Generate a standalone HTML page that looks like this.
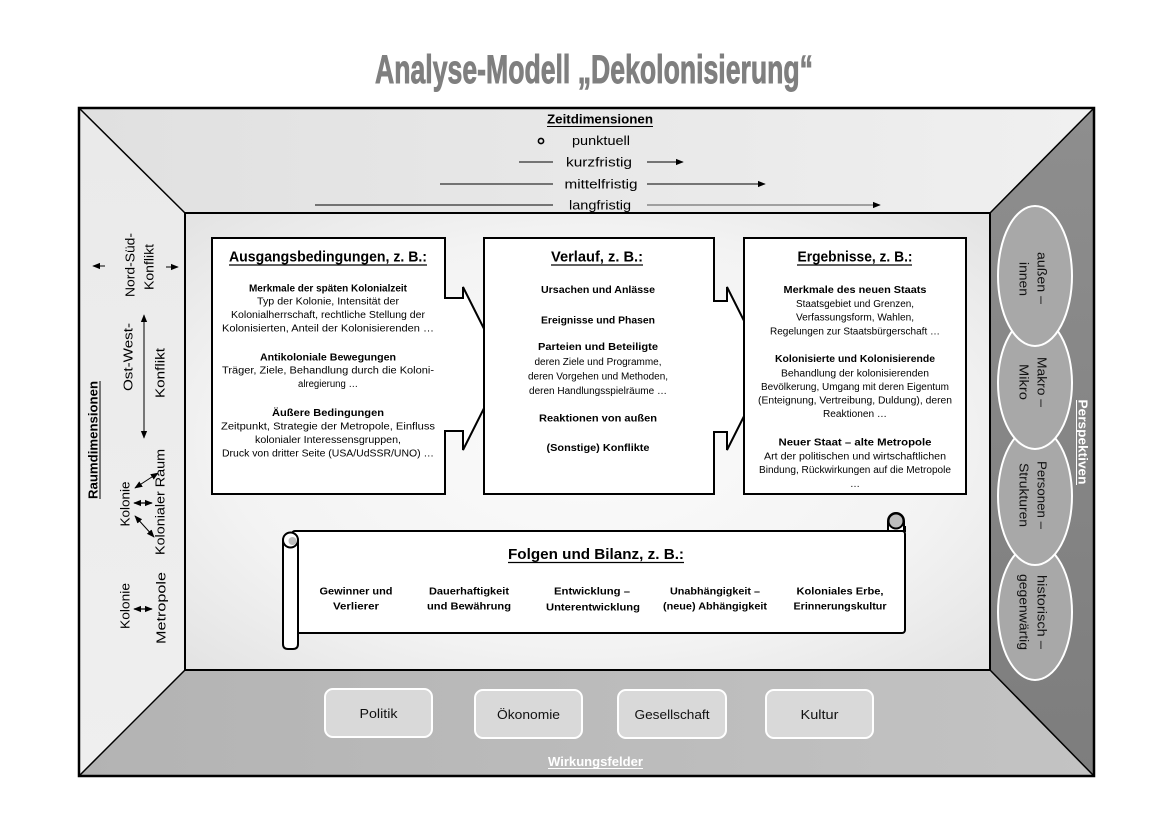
<!DOCTYPE html>
<html>
<head>
<meta charset="utf-8">
<style>
html,body{margin:0;padding:0;background:#fff;}
svg{display:block;}
text{font-family:"Liberation Sans",sans-serif;}
.b{font-weight:bold;}
</style>
</head>
<body>
<svg width="1169" height="826" viewBox="0 0 1169 826" xmlns="http://www.w3.org/2000/svg">
<defs>
  <linearGradient id="gTop" x1="0" y1="0" x2="1" y2="0">
    <stop offset="0" stop-color="#e0e0e0"/>
    <stop offset="1" stop-color="#f0f0f0"/>
  </linearGradient>
  <linearGradient id="gLeft" x1="0" y1="0" x2="0" y2="1">
    <stop offset="0" stop-color="#eaeaea"/>
    <stop offset="1" stop-color="#efefef"/>
  </linearGradient>
  <linearGradient id="gBot" x1="0" y1="0" x2="1" y2="0">
    <stop offset="0" stop-color="#b3b3b3"/>
    <stop offset="1" stop-color="#c3c3c3"/>
  </linearGradient>
  <linearGradient id="gRight" x1="0" y1="0" x2="0" y2="1">
    <stop offset="0" stop-color="#8e8e8e"/>
    <stop offset="1" stop-color="#7d7d7d"/>
  </linearGradient>
  <radialGradient id="gIn" cx="0.5" cy="0.5" r="0.75">
    <stop offset="0" stop-color="#fbfbfb"/>
    <stop offset="0.6" stop-color="#f3f3f3"/>
    <stop offset="1" stop-color="#e0e0e0"/>
  </radialGradient>
  <marker id="ah" viewBox="0 0 10 10" refX="9" refY="5" markerWidth="8" markerHeight="8" markerUnits="userSpaceOnUse" orient="auto-start-reverse">
    <path d="M0,1 L10,5 L0,9 z" fill="#000"/>
  </marker>
</defs>

<rect x="0" y="0" width="1169" height="826" fill="#fff"/>

<!-- Title -->
<text x="594" y="83" text-anchor="middle" font-size="40" font-weight="bold" fill="#7f7f7f" stroke="#7f7f7f" stroke-width="0.9" style="font-family:'Liberation Sans Narrow','Liberation Sans',sans-serif" textLength="438" lengthAdjust="spacingAndGlyphs">Analyse-Modell „Dekolonisierung“</text>

<!-- Frame panels -->
<polygon points="79,108 1094,108 990,213 185,213" fill="url(#gTop)"/>
<polygon points="79,108 185,213 185,670 79,776" fill="url(#gLeft)"/>
<polygon points="79,776 185,670 990,670 1094,776" fill="url(#gBot)"/>
<polygon points="1094,108 990,213 990,670 1094,776" fill="url(#gRight)"/>
<rect x="185" y="213" width="805" height="457" fill="url(#gIn)" stroke="#000" stroke-width="2"/>
<line x1="79" y1="108" x2="185" y2="213" stroke="#000" stroke-width="1.5"/>
<line x1="1094" y1="108" x2="990" y2="213" stroke="#000" stroke-width="1.5"/>
<line x1="79" y1="776" x2="185" y2="670" stroke="#000" stroke-width="1.5"/>
<line x1="1094" y1="776" x2="990" y2="670" stroke="#000" stroke-width="1.5"/>
<rect x="79" y="108" width="1015" height="668" fill="none" stroke="#000" stroke-width="2.5"/>

<!-- Zeitdimensionen -->
<text x="600" y="123.5" text-anchor="middle" font-size="13" class="b" textLength="106" lengthAdjust="spacingAndGlyphs">Zeitdimensionen</text>
<line x1="547" y1="126.5" x2="653" y2="126.5" stroke="#000" stroke-width="1"/>
<circle cx="541" cy="141" r="2.6" fill="none" stroke="#000" stroke-width="1.6"/>
<text x="601" y="145" text-anchor="middle" font-size="13" textLength="58" lengthAdjust="spacingAndGlyphs">punktuell</text>
<line x1="519" y1="162" x2="553" y2="162" stroke="#000" stroke-width="1"/>
<text x="599" y="166.5" text-anchor="middle" font-size="13" textLength="66" lengthAdjust="spacingAndGlyphs">kurzfristig</text>
<line x1="647" y1="162" x2="683" y2="162" stroke="#000" stroke-width="1" marker-end="url(#ah)"/>
<line x1="440" y1="184" x2="553" y2="184" stroke="#000" stroke-width="1"/>
<text x="601" y="188.5" text-anchor="middle" font-size="13" textLength="73" lengthAdjust="spacingAndGlyphs">mittelfristig</text>
<line x1="647" y1="184" x2="765" y2="184" stroke="#000" stroke-width="1" marker-end="url(#ah)"/>
<line x1="315" y1="205" x2="553" y2="205" stroke="#000" stroke-width="1"/>
<text x="600" y="209.5" text-anchor="middle" font-size="13" textLength="62" lengthAdjust="spacingAndGlyphs">langfristig</text>
<line x1="647" y1="205" x2="880" y2="205" stroke="#555" stroke-width="1" marker-end="url(#ah)"/>

<!-- Left panel: Raumdimensionen -->
<text transform="translate(93,440) rotate(-90)" y="4.5" text-anchor="middle" font-size="12.5" class="b" textLength="118" lengthAdjust="spacingAndGlyphs">Raumdimensionen</text>
<line x1="100" y1="381" x2="100" y2="499" stroke="#000" stroke-width="1"/>

<text transform="translate(130,265) rotate(-90)" y="4.5" text-anchor="middle" font-size="13" textLength="64" lengthAdjust="spacingAndGlyphs">Nord-Süd-</text>
<text transform="translate(149,267) rotate(-90)" y="4.5" text-anchor="middle" font-size="13" textLength="46" lengthAdjust="spacingAndGlyphs">Konflikt</text>
<line x1="105" y1="266" x2="93" y2="266" stroke="#000" stroke-width="1" marker-end="url(#ah)"/>
<line x1="166" y1="267" x2="178" y2="267" stroke="#000" stroke-width="1" marker-end="url(#ah)"/>

<text transform="translate(128,357) rotate(-90)" y="4.5" text-anchor="middle" font-size="13" textLength="68" lengthAdjust="spacingAndGlyphs">Ost-West-</text>
<text transform="translate(160,373) rotate(-90)" y="4.5" text-anchor="middle" font-size="13" textLength="50" lengthAdjust="spacingAndGlyphs">Konflikt</text>
<line x1="144" y1="315" x2="144" y2="438" stroke="#000" stroke-width="1" marker-start="url(#ah)" marker-end="url(#ah)"/>

<text transform="translate(125,504) rotate(-90)" y="4.5" text-anchor="middle" font-size="13" textLength="45" lengthAdjust="spacingAndGlyphs">Kolonie</text>
<text transform="translate(160,502) rotate(-90)" y="4.5" text-anchor="middle" font-size="13" textLength="106" lengthAdjust="spacingAndGlyphs">Kolonialer Raum</text>
<line x1="134" y1="503" x2="152" y2="503" stroke="#000" stroke-width="1.2" marker-start="url(#ah)" marker-end="url(#ah)"/>
<line x1="135" y1="488" x2="158" y2="473" stroke="#000" stroke-width="1" marker-start="url(#ah)" marker-end="url(#ah)"/>
<line x1="135" y1="516" x2="154" y2="537" stroke="#000" stroke-width="1" marker-start="url(#ah)" marker-end="url(#ah)"/>

<text transform="translate(125,606) rotate(-90)" y="4.5" text-anchor="middle" font-size="13" textLength="46" lengthAdjust="spacingAndGlyphs">Kolonie</text>
<text transform="translate(161,608) rotate(-90)" y="4.5" text-anchor="middle" font-size="13" textLength="72" lengthAdjust="spacingAndGlyphs">Metropole</text>
<line x1="134" y1="609" x2="152" y2="609" stroke="#000" stroke-width="1.2" marker-start="url(#ah)" marker-end="url(#ah)"/>

<!-- Right panel ellipses -->
<ellipse cx="1035" cy="612" rx="37" ry="68" fill="#a8a8a8" stroke="#fff" stroke-width="2"/>
<ellipse cx="1035" cy="496" rx="37" ry="69" fill="#a8a8a8" stroke="#fff" stroke-width="2"/>
<ellipse cx="1035" cy="383" rx="37" ry="66" fill="#a8a8a8" stroke="#fff" stroke-width="2"/>
<ellipse cx="1035" cy="276" rx="37" ry="70" fill="#a8a8a8" stroke="#fff" stroke-width="2"/>

<g font-size="12.5" fill="#111">
  <text transform="translate(1034,278) rotate(90)" y="-3.6" text-anchor="middle" textLength="52" lengthAdjust="spacingAndGlyphs">außen –</text>
  <text transform="translate(1034,279) rotate(90)" y="14.4" text-anchor="middle" textLength="34" lengthAdjust="spacingAndGlyphs">innen</text>
  <text transform="translate(1034,382) rotate(90)" y="-3.6" text-anchor="middle" textLength="50" lengthAdjust="spacingAndGlyphs">Makro –</text>
  <text transform="translate(1034,382) rotate(90)" y="14.4" text-anchor="middle" textLength="36" lengthAdjust="spacingAndGlyphs">Mikro</text>
  <text transform="translate(1034,495) rotate(90)" y="-3.6" text-anchor="middle" textLength="68" lengthAdjust="spacingAndGlyphs">Personen –</text>
  <text transform="translate(1034,495) rotate(90)" y="14.4" text-anchor="middle" textLength="64" lengthAdjust="spacingAndGlyphs">Strukturen</text>
  <text transform="translate(1034,612) rotate(90)" y="-3.6" text-anchor="middle" textLength="74" lengthAdjust="spacingAndGlyphs">historisch –</text>
  <text transform="translate(1034,612) rotate(90)" y="14.4" text-anchor="middle" textLength="76" lengthAdjust="spacingAndGlyphs">gegenwärtig</text>
</g>
<text transform="translate(1083,442) rotate(90)" y="4.4" text-anchor="middle" font-size="12.5" class="b" fill="#fff" textLength="85" lengthAdjust="spacingAndGlyphs">Perspektiven</text>
<line x1="1076.5" y1="400" x2="1076.5" y2="485" stroke="#fff" stroke-width="1"/>

<!-- Box 1 with arrow -->
<path d="M212 238 H445 V298 H463 V287 L504 368.5 L463 450 V431 H445 V494 H212 Z" fill="#fff" stroke="#000" stroke-width="2" stroke-linejoin="miter"/>
<!-- Box 2 with arrow -->
<path d="M484 238 H714 V301 H727 V287 L768 368.5 L727 450 V432 H714 V494 H484 Z" fill="#fff" stroke="#000" stroke-width="2"/>
<!-- Box 3 -->
<rect x="744" y="238" width="222" height="256" fill="#fff" stroke="#000" stroke-width="2"/>

<!-- Box 1 text -->
<g text-anchor="middle">
  <text x="328" y="261.5" font-size="14.5" class="b" textLength="198" lengthAdjust="spacingAndGlyphs">Ausgangsbedingungen, z. B.:</text>
  <line x1="229" y1="265" x2="427" y2="265" stroke="#000" stroke-width="1.2"/>
  <text x="328" y="291.5" font-size="10.5" class="b" textLength="158" lengthAdjust="spacingAndGlyphs">Merkmale der späten Kolonialzeit</text>
  <text x="328" y="304.5" font-size="10" textLength="142" lengthAdjust="spacingAndGlyphs">Typ der Kolonie, Intensität der</text>
  <text x="328" y="318" font-size="10" textLength="194" lengthAdjust="spacingAndGlyphs">Kolonialherrschaft, rechtliche Stellung der</text>
  <text x="328" y="331.5" font-size="10" textLength="212" lengthAdjust="spacingAndGlyphs">Kolonisierten, Anteil der Kolonisierenden …</text>
  <text x="328" y="360.5" font-size="10.5" class="b" textLength="136" lengthAdjust="spacingAndGlyphs">Antikoloniale Bewegungen</text>
  <text x="328" y="373.5" font-size="10" textLength="212" lengthAdjust="spacingAndGlyphs">Träger, Ziele, Behandlung durch die Koloni-</text>
  <text x="328" y="387" font-size="10" textLength="60" lengthAdjust="spacingAndGlyphs">alregierung …</text>
  <text x="328" y="416" font-size="10.5" class="b" textLength="112" lengthAdjust="spacingAndGlyphs">Äußere Bedingungen</text>
  <text x="328" y="429.5" font-size="10" textLength="214" lengthAdjust="spacingAndGlyphs">Zeitpunkt, Strategie der Metropole, Einfluss</text>
  <text x="328" y="443" font-size="10" textLength="146" lengthAdjust="spacingAndGlyphs">kolonialer Interessensgruppen,</text>
  <text x="328" y="456.5" font-size="10" textLength="212" lengthAdjust="spacingAndGlyphs">Druck von dritter Seite (USA/UdSSR/UNO) …</text>
</g>

<!-- Box 2 text -->
<g text-anchor="middle">
  <text x="597" y="261.5" font-size="14.5" class="b" textLength="92" lengthAdjust="spacingAndGlyphs">Verlauf, z. B.:</text>
  <line x1="551" y1="265" x2="643" y2="265" stroke="#000" stroke-width="1.2"/>
  <text x="598" y="293" font-size="10.5" class="b" textLength="114" lengthAdjust="spacingAndGlyphs">Ursachen und Anlässe</text>
  <text x="598" y="323.5" font-size="10.5" class="b" textLength="114" lengthAdjust="spacingAndGlyphs">Ereignisse und Phasen</text>
  <text x="598" y="350" font-size="10.5" class="b" textLength="120" lengthAdjust="spacingAndGlyphs">Parteien und Beteiligte</text>
  <text x="598" y="365" font-size="10" textLength="127" lengthAdjust="spacingAndGlyphs">deren Ziele und Programme,</text>
  <text x="598" y="379.5" font-size="10" textLength="140" lengthAdjust="spacingAndGlyphs">deren Vorgehen und Methoden,</text>
  <text x="598" y="394" font-size="10" textLength="138" lengthAdjust="spacingAndGlyphs">deren Handlungsspielräume …</text>
  <text x="598" y="421.5" font-size="10.5" class="b" textLength="118" lengthAdjust="spacingAndGlyphs">Reaktionen von außen</text>
  <text x="598" y="451" font-size="10.5" class="b" textLength="103" lengthAdjust="spacingAndGlyphs">(Sonstige) Konflikte</text>
</g>

<!-- Box 3 text -->
<g text-anchor="middle">
  <text x="855" y="261.5" font-size="14.5" class="b" textLength="115" lengthAdjust="spacingAndGlyphs">Ergebnisse, z. B.:</text>
  <line x1="797" y1="265" x2="912" y2="265" stroke="#000" stroke-width="1.2"/>
  <text x="855" y="293" font-size="10.5" class="b" textLength="143" lengthAdjust="spacingAndGlyphs">Merkmale des neuen Staats</text>
  <text x="855" y="307" font-size="10" textLength="118" lengthAdjust="spacingAndGlyphs">Staatsgebiet und Grenzen,</text>
  <text x="855" y="320.5" font-size="10" textLength="118" lengthAdjust="spacingAndGlyphs">Verfassungsform, Wahlen,</text>
  <text x="855" y="334.5" font-size="10" textLength="170" lengthAdjust="spacingAndGlyphs">Regelungen zur Staatsbürgerschaft …</text>
  <text x="855" y="362" font-size="10.5" class="b" textLength="160" lengthAdjust="spacingAndGlyphs">Kolonisierte und Kolonisierende</text>
  <text x="855" y="376.5" font-size="10" textLength="148" lengthAdjust="spacingAndGlyphs">Behandlung der kolonisierenden</text>
  <text x="855" y="390" font-size="10" textLength="188" lengthAdjust="spacingAndGlyphs">Bevölkerung, Umgang mit deren Eigentum</text>
  <text x="855" y="403.5" font-size="10" textLength="194" lengthAdjust="spacingAndGlyphs">(Enteignung, Vertreibung, Duldung), deren</text>
  <text x="855" y="417" font-size="10" textLength="64" lengthAdjust="spacingAndGlyphs">Reaktionen …</text>
  <text x="855" y="445.5" font-size="10.5" class="b" textLength="153" lengthAdjust="spacingAndGlyphs">Neuer Staat – alte Metropole</text>
  <text x="855" y="459.5" font-size="10" textLength="182" lengthAdjust="spacingAndGlyphs">Art der politischen und wirtschaftlichen</text>
  <text x="855" y="473" font-size="10" textLength="192" lengthAdjust="spacingAndGlyphs">Bindung, Rückwirkungen auf die Metropole</text>
  <text x="855" y="487" font-size="10">…</text>
</g>

<!-- Scroll -->
<rect x="292" y="531" width="613" height="102" rx="3" fill="#fff" stroke="#000" stroke-width="2"/>
<!-- right roll -->
<path d="M888 531 V521 A8 8 0 0 1 904 521 V531" fill="#fff" stroke="#000" stroke-width="2"/>
<circle cx="896" cy="521" r="7.5" fill="#bdbdbd" stroke="#000" stroke-width="2"/>
<path d="M889 531 H905 V526" fill="none" stroke="#000" stroke-width="2"/>
<!-- left roll -->
<path d="M283 540 V644 Q283 649 288 649 H293 Q298 649 298 644 V540" fill="#fff" stroke="#000" stroke-width="2"/>
<circle cx="290.5" cy="540" r="7.5" fill="#fff" stroke="#000" stroke-width="2"/>
<circle cx="292.5" cy="541" r="4" fill="#bdbdbd"/>

<g text-anchor="middle">
  <text x="596" y="559" font-size="14.5" class="b" textLength="176" lengthAdjust="spacingAndGlyphs">Folgen und Bilanz, z. B.:</text>
  <line x1="508" y1="562.5" x2="684" y2="562.5" stroke="#000" stroke-width="1.2"/>
  <text x="356" y="594.5" font-size="10.5" class="b" textLength="73" lengthAdjust="spacingAndGlyphs">Gewinner und</text>
  <text x="356" y="609.5" font-size="10.5" class="b" textLength="46" lengthAdjust="spacingAndGlyphs">Verlierer</text>
  <text x="469" y="594.5" font-size="10.5" class="b" textLength="80" lengthAdjust="spacingAndGlyphs">Dauerhaftigkeit</text>
  <text x="469" y="609.5" font-size="10.5" class="b" textLength="84" lengthAdjust="spacingAndGlyphs">und Bewährung</text>
  <text x="592" y="594.5" font-size="10.5" class="b" textLength="76" lengthAdjust="spacingAndGlyphs">Entwicklung –</text>
  <text x="593" y="610.5" font-size="10.5" class="b" textLength="94" lengthAdjust="spacingAndGlyphs">Unterentwicklung</text>
  <text x="715" y="594.5" font-size="10.5" class="b" textLength="90" lengthAdjust="spacingAndGlyphs">Unabhängigkeit –</text>
  <text x="715" y="609.5" font-size="10.5" class="b" textLength="104" lengthAdjust="spacingAndGlyphs">(neue) Abhängigkeit</text>
  <text x="840" y="594.5" font-size="10.5" class="b" textLength="87" lengthAdjust="spacingAndGlyphs">Koloniales Erbe,</text>
  <text x="840" y="609.5" font-size="10.5" class="b" textLength="93" lengthAdjust="spacingAndGlyphs">Erinnerungskultur</text>
</g>

<!-- Bottom boxes -->
<g fill="#d9d9d9" stroke="#fff" stroke-width="2">
  <rect x="325" y="689" width="107" height="48" rx="8"/>
  <rect x="475" y="690" width="107" height="48" rx="8"/>
  <rect x="618" y="690" width="108" height="48" rx="8"/>
  <rect x="766" y="690" width="107" height="48" rx="8"/>
</g>
<g text-anchor="middle" font-size="13" fill="#111">
  <text x="378.5" y="718" textLength="38" lengthAdjust="spacingAndGlyphs">Politik</text>
  <text x="528.5" y="719" textLength="63" lengthAdjust="spacingAndGlyphs">Ökonomie</text>
  <text x="672" y="719" textLength="75" lengthAdjust="spacingAndGlyphs">Gesellschaft</text>
  <text x="819.5" y="719" textLength="38" lengthAdjust="spacingAndGlyphs">Kultur</text>
</g>
<text x="595.5" y="766" text-anchor="middle" font-size="12.5" class="b" fill="#fff" textLength="95" lengthAdjust="spacingAndGlyphs">Wirkungsfelder</text>
<line x1="548" y1="768.5" x2="643" y2="768.5" stroke="#fff" stroke-width="1"/>

</svg>
</body>
</html>
